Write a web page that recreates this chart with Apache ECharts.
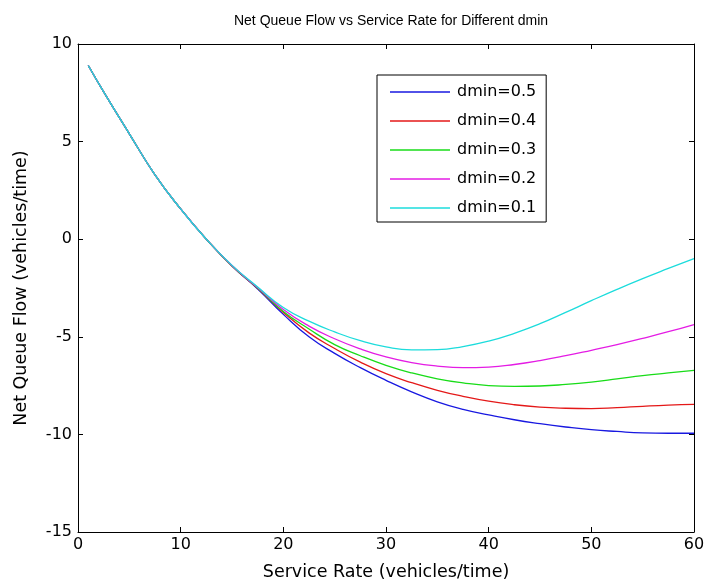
<!DOCTYPE html>
<html>
<head>
<meta charset="utf-8">
<script src="https://cdn.jsdelivr.net/npm/echarts@6/dist/echarts.min.js"></script>
<style>
html,body{margin:0;padding:0;background:#fff;}
#chart{width:704px;height:583px;}
</style>
</head>
<body>
<div id="chart"></div>
<script>
// Service rate samples
var serviceRate = [1, 2.5, 5, 7.5, 10, 12.5, 15, 17.5, 20, 22.5, 25, 27.5, 30, 32.5, 35, 37.5, 40, 42.5, 45, 47.5, 50, 52.5, 55, 57.5, 60];
var seriesNames = ['dmin=0.5', 'dmin=0.4', 'dmin=0.3', 'dmin=0.2', 'dmin=0.1'];
var dmin05 = [8.9, 7.55, 5.4, 3.3, 1.55, 0.0, -1.38, -2.55, -3.85, -5.0, -5.85, -6.58, -7.23, -7.82, -8.33, -8.72, -9.0, -9.25, -9.45, -9.62, -9.76, -9.85, -9.92, -9.94, -9.94];
var dmin04 = [8.9, 7.55, 5.4, 3.3, 1.55, 0.0, -1.37, -2.52, -3.75, -4.8, -5.6, -6.3, -6.89, -7.35, -7.74, -8.05, -8.3, -8.48, -8.6, -8.66, -8.68, -8.63, -8.56, -8.5, -8.46];
var dmin03 = [8.9, 7.55, 5.4, 3.3, 1.55, 0.0, -1.36, -2.5, -3.7, -4.6, -5.4, -5.97, -6.46, -6.85, -7.15, -7.36, -7.5, -7.54, -7.52, -7.44, -7.32, -7.16, -6.99, -6.85, -6.72];
var dmin02 = [8.9, 7.55, 5.4, 3.3, 1.55, 0.0, -1.35, -2.48, -3.6, -4.45, -5.1, -5.62, -6.03, -6.32, -6.5, -6.58, -6.55, -6.42, -6.22, -5.97, -5.69, -5.4, -5.08, -4.74, -4.37];
var dmin01 = [8.9, 7.55, 5.4, 3.3, 1.55, 0.0, -1.34, -2.45, -3.5, -4.2, -4.75, -5.2, -5.52, -5.67, -5.66, -5.5, -5.22, -4.82, -4.33, -3.75, -3.15, -2.57, -2.02, -1.5, -0.99];
var seriesValues = [dmin05, dmin04, dmin03, dmin02, dmin01];
var colors = ['#1818e0', '#e41818', '#18dc18', '#e41ce4', '#1cdcdc'];

function pairs(xs, ys) {
  var out = [];
  for (var i = 0; i < xs.length; i++) out.push([xs[i], ys[i]]);
  return out;
}

var FONT = 'DejaVu Sans';
var series = seriesNames.map(function (name, i) {
  return {
    name: name,
    type: 'line',
    data: pairs(serviceRate, seriesValues[i]),
    smooth: 0.5,
    symbol: 'none',
    lineStyle: { color: colors[i], width: 1.3 },
    itemStyle: { color: colors[i] },
    xAxisIndex: 0,
    yAxisIndex: 0,
    z: 2 + i
  };
});

var axisCommon = {
  type: 'value',
  axisLine: { show: true, onZero: false, lineStyle: { color: '#000', width: 1 } },
  axisTick: { show: true, inside: true, length: 5, lineStyle: { color: '#000' } },
  splitLine: { show: false }
};

var chart = echarts.init(document.getElementById('chart'), null, { renderer: 'canvas' });
chart.setOption({
  backgroundColor: '#fff',
  animation: false,
  color: colors,
  title: {
    text: 'Net Queue Flow vs Service Rate for Different dmin',
    left: 386,
    textAlign: 'center',
    top: 9,
    textStyle: { fontFamily: 'Liberation Sans', fontSize: 14, fontWeight: 'normal', color: '#000' }
  },
  grid: { left: 78, right: 10, top: 44, bottom: 51, containLabel: false, outerBoundsMode: 'none' },
  legend: {
    orient: 'vertical',
    left: 377,
    top: 75,
    padding: [9, 10, 6, 13],
    itemWidth: 60,
    itemHeight: 14,
    itemGap: 13,
    icon: 'path://M0,0L60,0L60,1.3L0,1.3Z',
    backgroundColor: '#fff',
    borderColor: '#000',
    borderWidth: 1,
    borderRadius: 0,
    textStyle: { fontFamily: FONT, fontSize: 16, width: 85, color: '#000', padding: [0, 0, 0, 2] },
    data: seriesNames
  },
  xAxis: [
    Object.assign({}, axisCommon, {
      position: 'bottom', min: 0, max: 60, interval: 10,
      name: 'Service Rate (vehicles/time)', nameLocation: 'middle', nameGap: 31,
      nameTextStyle: { fontFamily: FONT, fontSize: 17.5, color: '#000' },
      axisLabel: { fontFamily: FONT, fontSize: 16, color: '#000', margin: 5 }
    }),
    Object.assign({}, axisCommon, {
      position: 'top', min: 0, max: 60, interval: 10,
      axisLabel: { show: false }
    })
  ],
  yAxis: [
    Object.assign({}, axisCommon, {
      position: 'left', min: -15, max: 10, interval: 5,
      name: 'Net Queue Flow (vehicles/time)', nameLocation: 'middle', nameGap: 48,
      nameTextStyle: { fontFamily: FONT, fontSize: 17.5, color: '#000' },
      axisLabel: { fontFamily: FONT, fontSize: 16, color: '#000', margin: 6 }
    }),
    Object.assign({}, axisCommon, {
      position: 'right', min: -15, max: 10, interval: 5,
      axisLabel: { show: false }
    })
  ],
  series: series
});
</script>
</body>
</html>
